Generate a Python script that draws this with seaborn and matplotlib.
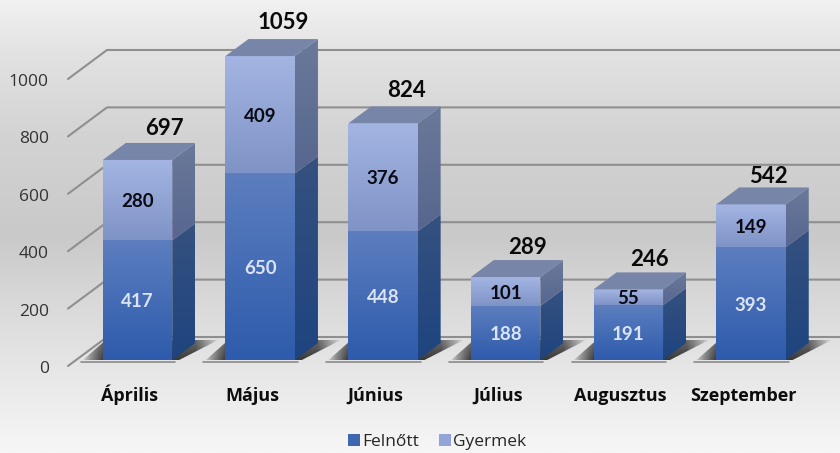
import matplotlib
matplotlib.use("Agg")
import matplotlib.pyplot as plt
import matplotlib.transforms as mtrans
from matplotlib.colors import LinearSegmentedColormap, to_rgb
from matplotlib.patches import Polygon
import numpy as np
import pandas as pd
import seaborn as sns

months = ["Április", "Május", "Június", "Július", "Augusztus", "Szeptember"]
adults = [417, 650, 448, 188, 191, 393]
children = [280, 409, 376, 101, 55, 149]
totals = [697, 1059, 824, 289, 246, 542]
y_ticks = [0, 200, 400, 600, 800, 1000]

W, H = 840, 453
STEP = 122.7      # px between categories
SCALE = 0.287     # px per unit
FIRST = 137.5     # px centre of first bar
BASE = 360        # px of value 0 on the bar plane
BAR_W = 69.5
DEPTH_X, DEPTH_Y = 23, 17

# total labels sit a little differently above each bar, in px
TOTAL_DX = [26.5, 23, 24, 21.5, 20.7, 17]
TOTAL_DY = [33, 36, 35.5, 32, 32, 29.5]

FONT = "Lato"
TICK_FONT = "Open Sans"

BG_STOPS = [(0.0, "#f1f1f1"), (0.12, "#e2e2e2"), (0.3, "#d3d3d3"), (0.52, "#c9c9c9"),
            (0.66, "#d8d8d8"), (0.8, "#e5e5e5"), (1.0, "#f6f6f6")]


def dx(px):
    return px / STEP


def dy(px):
    return px / SCALE


def grad_image(ax, poly_xy, top, bottom):
    xs, ys = zip(*poly_xy)
    cmap = LinearSegmentedColormap.from_list("g", [top, bottom])
    im = ax.imshow(np.linspace(0, 1, 64).reshape(-1, 1), cmap=cmap, aspect="auto",
                   extent=(min(xs), max(xs), min(ys), max(ys)), zorder=3, origin="upper")
    im.set_clip_path(Polygon(poly_xy, transform=ax.transData))
    im.set_clip_box(None)


def draw_segment(ax, i, low, high, face, side):
    half = BAR_W / 2 / STEP
    front = [(i - half, high), (i + half, high), (i + half, low), (i - half, low)]
    grad_image(ax, front, *face)
    right = [(i + half, high), (i + half + dx(DEPTH_X), high + dy(DEPTH_Y)),
             (i + half + dx(DEPTH_X), low + dy(DEPTH_Y)), (i + half, low)]
    grad_image(ax, right, *side)


def draw_shadow(ax, i):
    half = BAR_W / 2 / STEP
    y0, y1 = dy(-2), dy(20)
    xl, xr = i - half - dx(22), i + half + dx(46)
    poly = [(xl, y0), (i + half + dx(3), y0), (xr, y1), (i - half + dx(3), y1)]
    rgba = np.zeros((30, 120, 4))
    grid = np.linspace(xl, xr, 120)
    fade = np.interp(grid, [xl, i - half, i + half + dx(DEPTH_X), xr], [0.0, 1.0, 1.0, 0.0]) ** 0.8
    rows = np.linspace(0.7, 1.0, 30).reshape(-1, 1)
    rgba[..., :3] = 0.2
    rgba[..., 3] = fade * rows
    im = ax.imshow(rgba, aspect="auto", extent=(xl, xr, y0, y1), zorder=1.5, origin="upper")
    im.set_clip_path(Polygon(poly, transform=ax.transData))
    im.set_clip_box(None)
    ax.plot([xl, i + half + dx(3)], [y0, y0], color="#8c8c8c", lw=1.2, clip_on=False, zorder=1.6)


df = pd.DataFrame({"honap": months, "Felnőtt": adults, "Gyermek": children})

sns.set_theme(style="white")
plt.rcParams["font.family"] = [FONT, "DejaVu Sans"]

fig = plt.figure(figsize=(W / 100, H / 100), dpi=100)

bg = fig.add_axes([0, 0, 1, 1], zorder=-1)
bg.axis("off")
bg_cmap = LinearSegmentedColormap.from_list("bg", [(p, to_rgb(c)) for p, c in BG_STOPS])
bg.imshow(np.linspace(0, 1, 256).reshape(-1, 1), cmap=bg_cmap, aspect="auto")

left_px = 60
ax = fig.add_axes([left_px / W, (H - BASE) / H, (W - left_px) / W, BASE / H])
ax.patch.set_visible(False)

sns.barplot(data=df, x="honap", y="Felnőtt", color="#3f67b1", saturation=1, linewidth=0,
            width=BAR_W / STEP, label="Felnőtt", ax=ax, zorder=2)
sns.barplot(data=df, x="honap", y="Gyermek", color="#93a5d8", saturation=1, linewidth=0,
            width=BAR_W / STEP, bottom=adults, label="Gyermek", ax=ax, zorder=2)

xlim = ((left_px - FIRST) / STEP, (W - FIRST) / STEP)
ylim = (0, BASE / SCALE)

# wall grid: slanted piece from the front edge, then along the back wall
for v in y_ticks:
    fx, fy = (68 - FIRST) / STEP, v - dy(6)
    bx, by = (107 - FIRST) / STEP, v + dy(23)
    ax.plot([fx, bx, xlim[1]], [fy, by, by], color="#8f8f8f", lw=1.5, clip_on=False, zorder=1)

for i, (a, c, t) in enumerate(zip(adults, children, totals)):
    draw_shadow(ax, i)
    draw_segment(ax, i, 0, a, ("#5c7ebf", "#2e5bac"), ("#35517f", "#1e447f"))
    draw_segment(ax, i, a, a + c, ("#a4b5e3", "#7f93c6"), ("#6b7999", "#56668f"))
    half = BAR_W / 2 / STEP
    top = [(i - half, t), (i + half, t), (i + half + dx(DEPTH_X), t + dy(DEPTH_Y)),
           (i - half + dx(DEPTH_X), t + dy(DEPTH_Y))]
    ax.add_patch(Polygon(top, facecolor="#7785a8", edgecolor="none", zorder=3.2, clip_on=False))
    ax.text(i, a / 2, str(a), ha="center", va="center_baseline", color="#dbe3f4",
            fontsize=13.5, fontweight="bold", zorder=5)
    ax.text(i, a + c / 2, str(c), ha="center", va="center_baseline", color="#0a0a14",
            fontsize=13.5, fontweight="bold", zorder=5)
    ax.annotate(str(t), (i, t), xytext=(TOTAL_DX[i] * 0.72, TOTAL_DY[i] * 0.72),
                textcoords="offset points", ha="center", va="center_baseline",
                color="#0a0a0a", fontsize=16, fontweight="bold", zorder=5)

ax.set_xlim(*xlim)
ax.set_ylim(*ylim)
ax.set_xlabel("")
ax.set_ylabel("")
sns.despine(ax=ax, left=True, bottom=True)
ax.set_yticks(y_ticks)
ax.set_yticklabels([str(v) for v in y_ticks], fontsize=12.5, color="#333333", family=TICK_FONT)
ax.set_xticks(range(len(months)))
ax.set_xticklabels(months, fontsize=13, fontweight="bold", color="#0d0d0d", family=TICK_FONT, va="baseline")
ax.tick_params(axis="both", length=0)
ax.tick_params(axis="y", pad=8)
ax.tick_params(axis="x", pad=29.5)

y_shift = mtrans.ScaledTranslation(0, -7 / 100, fig.dpi_scale_trans)
for label in ax.get_yticklabels():
    label.set_transform(label.get_transform() + y_shift)
x_shift = mtrans.ScaledTranslation(-8 / 100, 0, fig.dpi_scale_trans)
for label in ax.get_xticklabels():
    label.set_transform(label.get_transform() + x_shift)
    label.set_va("baseline")

ax.legend(loc="center", bbox_to_anchor=(0.52, 11 / H), bbox_transform=fig.transFigure, ncol=2,
          frameon=False, handlelength=0.7, handleheight=0.7, handletextpad=0.1, columnspacing=1.15,
          prop={"family": TICK_FONT, "size": 12.5})

fig.savefig("out.png", dpi=100)
